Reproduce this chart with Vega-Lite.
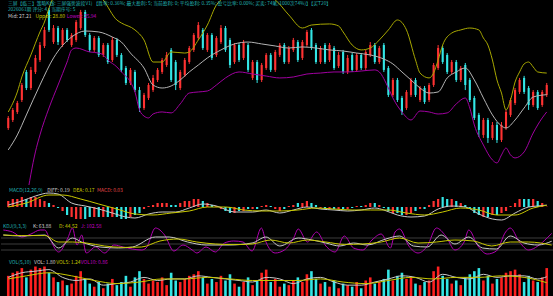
{
"$schema": "https://vega.github.io/schema/vega-lite/v6.json",
"background": "#000000",
"padding": 0,
"spacing": 0,
"config": {"view": {"stroke": null}, "font": "Noto Sans CJK SC"},
"resolve": {"scale": {"x": "independent", "y": "independent", "color": "independent"}},
"datasets": {
"k": [
{"i":1,"o":24.76,"c":25.50,"h":25.64,"l":24.62,"m":0.6,"v":1.3},
{"i":2,"o":25.35,"c":26.09,"h":26.23,"l":25.20,"m":0.8,"v":1.5},
{"i":3,"o":25.94,"c":26.60,"h":26.75,"l":25.79,"m":0.8,"v":1.6},
{"i":4,"o":26.82,"c":27.92,"h":28.07,"l":26.67,"m":1.0,"v":1.8},
{"i":5,"o":28.88,"c":27.70,"h":29.03,"l":27.55,"m":0.8,"v":1.2},
{"i":6,"o":27.70,"c":29.03,"h":29.25,"l":27.55,"m":1.0,"v":1.7},
{"i":7,"o":28.88,"c":29.91,"h":30.13,"l":28.73,"m":1.0,"v":1.9},
{"i":8,"o":29.76,"c":30.86,"h":31.08,"l":29.61,"m":0.8,"v":1.8},
{"i":9,"o":30.79,"c":31.97,"h":32.19,"l":30.64,"m":0.6,"v":1.9},
{"i":10,"o":33.44,"c":31.97,"h":33.58,"l":31.82,"m":0.4,"v":1.5},
{"i":11,"o":31.08,"c":32.11,"h":32.33,"l":30.94,"m":0.2,"v":1.2},
{"i":12,"o":32.11,"c":31.08,"h":32.26,"l":30.86,"m":-0.1,"v":0.9},
{"i":13,"o":30.86,"c":31.97,"h":32.11,"l":30.72,"m":-0.4,"v":1.0},
{"i":14,"o":31.97,"c":31.23,"h":32.11,"l":31.08,"m":-0.8,"v":0.7},
{"i":15,"o":30.86,"c":31.60,"h":31.74,"l":30.72,"m":-1.0,"v":0.8},
{"i":16,"o":31.23,"c":32.55,"h":32.70,"l":31.08,"m":-1.2,"v":1.3},
{"i":17,"o":32.11,"c":33.29,"h":33.44,"l":31.97,"m":-1.2,"v":1.6},
{"i":18,"o":33.29,"c":31.60,"h":33.44,"l":31.45,"m":-1.2,"v":1.1},
{"i":19,"o":31.60,"c":30.50,"h":31.74,"l":30.35,"m":-1.0,"v":0.8},
{"i":20,"o":30.50,"c":31.38,"h":31.52,"l":30.35,"m":-1.0,"v":0.6},
{"i":21,"o":31.38,"c":30.13,"h":31.52,"l":29.98,"m":-1.0,"v":0.9},
{"i":22,"o":30.13,"c":30.86,"h":31.01,"l":29.98,"m":-1.0,"v":0.5},
{"i":23,"o":30.86,"c":29.61,"h":31.01,"l":29.47,"m":-1.0,"v":0.8},
{"i":24,"o":29.76,"c":31.23,"h":31.45,"l":29.61,"m":-1.0,"v":1.1},
{"i":25,"o":31.23,"c":30.13,"h":31.38,"l":29.98,"m":-1.0,"v":0.7},
{"i":26,"o":30.13,"c":29.03,"h":30.27,"l":28.88,"m":-1.2,"v":0.9},
{"i":27,"o":29.17,"c":28.07,"h":29.32,"l":27.92,"m":-1.2,"v":1.3},
{"i":28,"o":28.07,"c":29.03,"h":29.17,"l":27.92,"m":-1.0,"v":0.6},
{"i":29,"o":28.88,"c":27.55,"h":29.03,"l":27.41,"m":-0.8,"v":1.2},
{"i":30,"o":27.55,"c":26.23,"h":27.78,"l":25.94,"m":-0.6,"v":1.6},
{"i":31,"o":26.23,"c":27.19,"h":27.34,"l":26.09,"m":-0.2,"v":1.1},
{"i":32,"o":26.97,"c":27.92,"h":28.07,"l":26.82,"m":0.1,"v":0.8},
{"i":33,"o":27.55,"c":28.44,"h":28.66,"l":27.41,"m":0.2,"v":1.0},
{"i":34,"o":28.29,"c":29.03,"h":29.17,"l":28.14,"m":0.4,"v":0.9},
{"i":35,"o":28.88,"c":29.76,"h":29.91,"l":28.73,"m":0.4,"v":1.2},
{"i":36,"o":29.39,"c":30.13,"h":30.35,"l":29.25,"m":0.4,"v":0.7},
{"i":37,"o":30.50,"c":28.29,"h":30.64,"l":28.14,"m":0.2,"v":1.5},
{"i":38,"o":29.61,"c":27.92,"h":29.76,"l":27.55,"m":0.2,"v":1.0},
{"i":39,"o":27.70,"c":28.88,"h":29.03,"l":27.55,"m":0.4,"v":0.9},
{"i":40,"o":28.66,"c":29.76,"h":29.91,"l":28.51,"m":0.6,"v":1.1},
{"i":41,"o":29.61,"c":30.64,"h":30.79,"l":29.47,"m":0.6,"v":1.3},
{"i":42,"o":30.50,"c":31.60,"h":31.74,"l":30.35,"m":0.8,"v":1.4},
{"i":43,"o":31.38,"c":32.33,"h":32.55,"l":31.23,"m":0.8,"v":1.6},
{"i":44,"o":31.97,"c":30.64,"h":32.11,"l":30.50,"m":0.6,"v":1.2},
{"i":45,"o":30.50,"c":31.60,"h":31.74,"l":30.35,"m":0.4,"v":0.8},
{"i":46,"o":31.60,"c":29.91,"h":31.74,"l":29.76,"m":0.2,"v":1.1},
{"i":47,"o":30.13,"c":31.38,"h":31.52,"l":29.98,"m":0.1,"v":0.9},
{"i":48,"o":31.08,"c":32.11,"h":32.33,"l":30.94,"m":-0.2,"v":1.3},
{"i":49,"o":32.11,"c":30.50,"h":32.26,"l":30.35,"m":-0.4,"v":1.0},
{"i":50,"o":31.23,"c":29.39,"h":31.38,"l":29.17,"m":-0.6,"v":1.4},
{"i":51,"o":29.61,"c":30.86,"h":31.01,"l":29.47,"m":-0.6,"v":0.8},
{"i":52,"o":30.86,"c":29.76,"h":31.01,"l":29.61,"m":-0.4,"v":0.6},
{"i":53,"o":29.91,"c":31.08,"h":31.23,"l":29.76,"m":-0.4,"v":0.9},
{"i":54,"o":30.86,"c":29.03,"h":31.01,"l":28.88,"m":-0.2,"v":1.2},
{"i":55,"o":28.44,"c":29.61,"h":29.76,"l":28.29,"m":-0.2,"v":0.7},
{"i":56,"o":29.61,"c":28.29,"h":29.76,"l":28.07,"m":-0.2,"v":1.0},
{"i":57,"o":28.29,"c":29.39,"h":29.54,"l":28.14,"m":0.1,"v":1.5},
{"i":58,"o":29.17,"c":30.13,"h":30.27,"l":29.03,"m":0.2,"v":1.7},
{"i":59,"o":30.13,"c":29.03,"h":30.27,"l":28.88,"m":0.1,"v":0.9},
{"i":60,"o":29.03,"c":30.35,"h":30.50,"l":28.88,"m":-0.2,"v":1.1},
{"i":61,"o":30.13,"c":30.86,"h":31.01,"l":29.98,"m":-0.4,"v":0.6},
{"i":62,"o":30.86,"c":29.61,"h":31.01,"l":29.47,"m":-0.2,"v":0.8},
{"i":63,"o":29.61,"c":30.64,"h":30.79,"l":29.47,"m":0.1,"v":0.7},
{"i":64,"o":30.50,"c":31.23,"h":31.38,"l":30.35,"m":0.2,"v":1.0},
{"i":65,"o":31.08,"c":29.76,"h":31.23,"l":29.61,"m":0.4,"v":1.2},
{"i":66,"o":29.91,"c":31.08,"h":31.23,"l":29.76,"m":0.4,"v":0.9},
{"i":67,"o":30.86,"c":31.82,"h":31.97,"l":30.72,"m":0.6,"v":1.4},
{"i":68,"o":31.97,"c":30.64,"h":32.11,"l":30.50,"m":0.4,"v":1.6},
{"i":69,"o":30.86,"c":29.61,"h":31.01,"l":29.47,"m":0.2,"v":1.1},
{"i":70,"o":29.61,"c":30.64,"h":30.79,"l":29.47,"m":-0.1,"v":0.8},
{"i":71,"o":30.86,"c":29.61,"h":31.01,"l":29.47,"m":-0.2,"v":0.9},
{"i":72,"o":29.76,"c":30.86,"h":31.01,"l":29.61,"m":-0.2,"v":0.6},
{"i":73,"o":30.64,"c":29.17,"h":30.79,"l":29.03,"m":-0.2,"v":1.0},
{"i":74,"o":29.32,"c":30.13,"h":30.35,"l":29.17,"m":-0.2,"v":0.5},
{"i":75,"o":30.35,"c":28.88,"h":30.50,"l":28.73,"m":-0.2,"v":0.8},
{"i":76,"o":28.88,"c":29.91,"h":30.13,"l":28.73,"m":-0.2,"v":0.7},
{"i":77,"o":30.13,"c":29.03,"h":30.27,"l":28.88,"m":-0.1,"v":0.6},
{"i":78,"o":29.03,"c":30.13,"h":30.27,"l":28.88,"m":0.1,"v":0.9},
{"i":79,"o":30.13,"c":29.17,"h":30.27,"l":29.03,"m":0.1,"v":0.5},
{"i":80,"o":29.17,"c":30.35,"h":30.50,"l":29.03,"m":0.2,"v":1.0},
{"i":81,"o":30.13,"c":30.86,"h":31.08,"l":29.98,"m":0.4,"v":1.2},
{"i":82,"o":30.86,"c":29.61,"h":31.01,"l":29.47,"m":0.4,"v":0.8},
{"i":83,"o":29.61,"c":30.64,"h":30.79,"l":29.47,"m":0.2,"v":0.9},
{"i":84,"o":30.86,"c":29.03,"h":31.01,"l":28.88,"m":-0.1,"v":1.1},
{"i":85,"o":29.17,"c":27.19,"h":29.32,"l":27.04,"m":-0.4,"v":1.7},
{"i":86,"o":27.19,"c":28.29,"h":28.44,"l":27.04,"m":-0.6,"v":1.0},
{"i":87,"o":28.29,"c":26.82,"h":28.44,"l":26.67,"m":-0.6,"v":1.3},
{"i":88,"o":26.97,"c":25.94,"h":27.12,"l":25.72,"m":-0.8,"v":1.5},
{"i":89,"o":26.23,"c":27.41,"h":27.55,"l":26.09,"m":-0.8,"v":1.1},
{"i":90,"o":27.19,"c":28.29,"h":28.44,"l":27.04,"m":-0.6,"v":1.2},
{"i":91,"o":28.29,"c":27.19,"h":28.44,"l":27.04,"m":-0.4,"v":0.8},
{"i":92,"o":26.82,"c":27.70,"h":27.85,"l":26.67,"m":-0.2,"v":0.7},
{"i":93,"o":27.70,"c":26.67,"h":27.85,"l":26.53,"m":-0.2,"v":0.9},
{"i":94,"o":26.82,"c":27.92,"h":28.07,"l":26.67,"m":0.2,"v":1.0},
{"i":95,"o":27.92,"c":29.39,"h":29.54,"l":27.78,"m":0.6,"v":1.6},
{"i":96,"o":29.17,"c":30.64,"h":30.86,"l":29.03,"m":0.8,"v":1.9},
{"i":97,"o":30.64,"c":29.61,"h":30.79,"l":29.47,"m":1.0,"v":1.3},
{"i":98,"o":30.13,"c":28.88,"h":30.27,"l":28.73,"m":0.8,"v":1.1},
{"i":99,"o":28.88,"c":29.61,"h":29.76,"l":28.73,"m":0.8,"v":0.8},
{"i":100,"o":29.61,"c":28.29,"h":29.76,"l":28.14,"m":0.6,"v":1.0},
{"i":101,"o":28.29,"c":29.17,"h":29.32,"l":28.14,"m":0.4,"v":0.7},
{"i":102,"o":29.39,"c":27.92,"h":29.54,"l":27.55,"m":0.2,"v":1.2},
{"i":103,"o":28.29,"c":26.82,"h":28.44,"l":26.67,"m":-0.2,"v":1.4},
{"i":104,"o":26.97,"c":25.50,"h":27.12,"l":25.35,"m":-0.6,"v":1.6},
{"i":105,"o":25.72,"c":24.62,"h":25.87,"l":24.10,"m":-0.8,"v":1.8},
{"i":106,"o":24.25,"c":25.35,"h":25.50,"l":24.03,"m":-1.0,"v":1.0},
{"i":107,"o":25.35,"c":24.03,"h":25.50,"l":23.66,"m":-1.0,"v":1.3},
{"i":108,"o":24.03,"c":24.98,"h":25.20,"l":23.88,"m":-0.8,"v":0.8},
{"i":109,"o":24.98,"c":23.88,"h":25.20,"l":23.66,"m":-0.8,"v":1.1},
{"i":110,"o":23.88,"c":24.98,"h":25.20,"l":23.73,"m":-0.6,"v":1.2},
{"i":111,"o":24.76,"c":25.94,"h":26.09,"l":24.62,"m":-0.4,"v":1.5},
{"i":112,"o":25.72,"c":26.82,"h":26.97,"l":25.57,"m":0.1,"v":1.6},
{"i":113,"o":26.60,"c":27.55,"h":27.70,"l":26.45,"m":0.4,"v":1.7},
{"i":114,"o":27.41,"c":28.29,"h":28.44,"l":27.26,"m":0.8,"v":1.4},
{"i":115,"o":28.44,"c":27.41,"h":28.59,"l":27.26,"m":0.8,"v":0.9},
{"i":116,"o":27.70,"c":26.45,"h":27.85,"l":26.09,"m":0.8,"v":1.3},
{"i":117,"o":26.45,"c":27.41,"h":27.55,"l":26.31,"m":0.8,"v":1.0},
{"i":118,"o":27.41,"c":26.23,"h":27.55,"l":26.09,"m":0.6,"v":0.9},
{"i":119,"o":26.45,"c":27.41,"h":27.55,"l":26.31,"m":0.4,"v":1.2},
{"i":120,"o":27.19,"c":27.92,"h":28.07,"l":27.04,"m":0.03,"v":1.8}
],
"boll": [
{"i":1,"s":"upper","v":25.94},{"i":3,"s":"upper","v":27.41},{"i":4,"s":"upper","v":28.51},{"i":6,"s":"upper","v":30.13},{"i":8,"s":"upper","v":31.82},{"i":9,"s":"upper","v":32.55},{"i":10,"s":"upper","v":33.58},{"i":13,"s":"upper","v":35.27},{"i":17,"s":"upper","v":35.64},{"i":20,"s":"upper","v":34.91},{"i":22,"s":"upper","v":34.17},{"i":25,"s":"upper","v":32.70},{"i":26,"s":"upper","v":32.48},{"i":29,"s":"upper","v":31.97},{"i":31,"s":"upper","v":31.23},{"i":33,"s":"upper","v":29.61},{"i":35,"s":"upper","v":29.61},{"i":37,"s":"upper","v":30.35},{"i":40,"s":"upper","v":30.27},{"i":41,"s":"upper","v":30.35},{"i":43,"s":"upper","v":31.23},{"i":45,"s":"upper","v":32.33},{"i":47,"s":"upper","v":33.80},{"i":50,"s":"upper","v":34.54},{"i":55,"s":"upper","v":34.76},{"i":60,"s":"upper","v":34.17},{"i":63,"s":"upper","v":33.07},{"i":66,"s":"upper","v":32.11},{"i":68,"s":"upper","v":32.33},{"i":72,"s":"upper","v":32.41},{"i":74,"s":"upper","v":32.26},{"i":75,"s":"upper","v":31.82},{"i":77,"s":"upper","v":30.86},{"i":79,"s":"upper","v":30.50},{"i":81,"s":"upper","v":30.64},{"i":83,"s":"upper","v":31.23},{"i":85,"s":"upper","v":31.97},{"i":87,"s":"upper","v":32.70},{"i":89,"s":"upper","v":31.97},{"i":91,"s":"upper","v":29.76},{"i":92,"s":"upper","v":28.80},{"i":94,"s":"upper","v":28.44},{"i":95,"s":"upper","v":28.80},{"i":96,"s":"upper","v":29.76},{"i":97,"s":"upper","v":30.86},{"i":99,"s":"upper","v":31.74},{"i":101,"s":"upper","v":31.97},{"i":103,"s":"upper","v":32.11},{"i":105,"s":"upper","v":31.97},{"i":106,"s":"upper","v":31.38},{"i":107,"s":"upper","v":30.86},{"i":108,"s":"upper","v":29.76},{"i":109,"s":"upper","v":28.29},{"i":110,"s":"upper","v":27.33},{"i":111,"s":"upper","v":26.09},{"i":112,"s":"upper","v":26.82},{"i":113,"s":"upper","v":28.14},{"i":114,"s":"upper","v":28.88},{"i":115,"s":"upper","v":29.47},{"i":116,"s":"upper","v":29.61},{"i":117,"s":"upper","v":29.25},{"i":118,"s":"upper","v":28.88},{"i":120,"s":"upper","v":28.80},
{"i":1,"s":"mid","v":23.15},{"i":3,"s":"mid","v":24.25},{"i":5,"s":"mid","v":25.72},{"i":8,"s":"mid","v":27.92},{"i":11,"s":"mid","v":29.91},{"i":15,"s":"mid","v":31.45},{"i":18,"s":"mid","v":31.89},{"i":21,"s":"mid","v":31.82},{"i":24,"s":"mid","v":31.45},{"i":26,"s":"mid","v":31.08},{"i":28,"s":"mid","v":30.27},{"i":31,"s":"mid","v":29.17},{"i":33,"s":"mid","v":27.92},{"i":35,"s":"mid","v":27.70},{"i":37,"s":"mid","v":27.85},{"i":39,"s":"mid","v":28.29},{"i":41,"s":"mid","v":28.88},{"i":43,"s":"mid","v":29.39},{"i":45,"s":"mid","v":29.91},{"i":48,"s":"mid","v":30.50},{"i":51,"s":"mid","v":30.94},{"i":54,"s":"mid","v":31.08},{"i":57,"s":"mid","v":30.94},{"i":60,"s":"mid","v":30.79},{"i":63,"s":"mid","v":30.64},{"i":66,"s":"mid","v":30.72},{"i":69,"s":"mid","v":30.64},{"i":72,"s":"mid","v":30.50},{"i":75,"s":"mid","v":30.42},{"i":78,"s":"mid","v":30.27},{"i":81,"s":"mid","v":30.13},{"i":84,"s":"mid","v":29.83},{"i":86,"s":"mid","v":29.47},{"i":88,"s":"mid","v":28.88},{"i":90,"s":"mid","v":28.29},{"i":92,"s":"mid","v":27.70},{"i":94,"s":"mid","v":27.33},{"i":96,"s":"mid","v":27.41},{"i":98,"s":"mid","v":28.44},{"i":100,"s":"mid","v":28.88},{"i":102,"s":"mid","v":29.17},{"i":104,"s":"mid","v":28.29},{"i":106,"s":"mid","v":26.97},{"i":108,"s":"mid","v":25.72},{"i":110,"s":"mid","v":24.91},{"i":111,"s":"mid","v":24.76},{"i":113,"s":"mid","v":25.35},{"i":115,"s":"mid","v":26.23},{"i":117,"s":"mid","v":27.04},{"i":120,"s":"mid","v":27.21},
{"i":5,"s":"lower","v":19.47},{"i":7,"s":"lower","v":23.00},{"i":8,"s":"lower","v":24.25},{"i":10,"s":"lower","v":26.23},{"i":12,"s":"lower","v":27.92},{"i":14,"s":"lower","v":29.61},{"i":15,"s":"lower","v":30.50},{"i":16,"s":"lower","v":30.64},{"i":19,"s":"lower","v":30.35},{"i":21,"s":"lower","v":30.27},{"i":22,"s":"lower","v":30.13},{"i":23,"s":"lower","v":29.76},{"i":25,"s":"lower","v":29.25},{"i":26,"s":"lower","v":28.88},{"i":28,"s":"lower","v":28.14},{"i":29,"s":"lower","v":27.41},{"i":30,"s":"lower","v":26.09},{"i":31,"s":"lower","v":25.64},{"i":32,"s":"lower","v":25.50},{"i":33,"s":"lower","v":25.79},{"i":35,"s":"lower","v":25.94},{"i":37,"s":"lower","v":25.87},{"i":39,"s":"lower","v":26.53},{"i":41,"s":"lower","v":27.33},{"i":43,"s":"lower","v":27.41},{"i":45,"s":"lower","v":27.48},{"i":47,"s":"lower","v":27.92},{"i":49,"s":"lower","v":28.44},{"i":52,"s":"lower","v":28.88},{"i":55,"s":"lower","v":28.73},{"i":58,"s":"lower","v":28.58},{"i":61,"s":"lower","v":28.44},{"i":64,"s":"lower","v":28.51},{"i":67,"s":"lower","v":28.73},{"i":70,"s":"lower","v":28.80},{"i":73,"s":"lower","v":28.88},{"i":76,"s":"lower","v":28.88},{"i":79,"s":"lower","v":28.95},{"i":82,"s":"lower","v":29.03},{"i":83,"s":"lower","v":28.88},{"i":85,"s":"lower","v":27.70},{"i":86,"s":"lower","v":26.97},{"i":88,"s":"lower","v":25.94},{"i":90,"s":"lower","v":25.35},{"i":92,"s":"lower","v":26.01},{"i":94,"s":"lower","v":25.94},{"i":96,"s":"lower","v":25.79},{"i":98,"s":"lower","v":25.87},{"i":100,"s":"lower","v":26.53},{"i":102,"s":"lower","v":26.97},{"i":103,"s":"lower","v":26.23},{"i":104,"s":"lower","v":24.98},{"i":106,"s":"lower","v":23.51},{"i":108,"s":"lower","v":22.41},{"i":109,"s":"lower","v":22.19},{"i":110,"s":"lower","v":22.78},{"i":111,"s":"lower","v":23.29},{"i":112,"s":"lower","v":22.78},{"i":113,"s":"lower","v":22.56},{"i":115,"s":"lower","v":23.00},{"i":117,"s":"lower","v":24.39},{"i":119,"s":"lower","v":25.50},{"i":120,"s":"lower","v":25.94}
],
"macdl": [
{"i":1,"s":"DIFF","v":0.2},{"i":4,"s":"DIFF","v":0.6},{"i":7,"s":"DIFF","v":1.1},{"i":10,"s":"DIFF","v":1.4},{"i":12,"s":"DIFF","v":1.3},{"i":15,"s":"DIFF","v":0.4},{"i":18,"s":"DIFF","v":0.1},{"i":21,"s":"DIFF","v":-0.2},{"i":24,"s":"DIFF","v":-0.6},{"i":27,"s":"DIFF","v":-1.0},{"i":29,"s":"DIFF","v":-1.1},{"i":32,"s":"DIFF","v":-0.7},{"i":35,"s":"DIFF","v":-0.5},{"i":38,"s":"DIFF","v":-0.5},{"i":41,"s":"DIFF","v":-0.1},{"i":44,"s":"DIFF","v":0.3},{"i":47,"s":"DIFF","v":0.1},{"i":51,"s":"DIFF","v":-0.5},{"i":55,"s":"DIFF","v":-0.5},{"i":58,"s":"DIFF","v":-0.3},{"i":61,"s":"DIFF","v":-0.6},{"i":64,"s":"DIFF","v":-0.3},{"i":67,"s":"DIFF","v":0.0},{"i":70,"s":"DIFF","v":-0.2},{"i":73,"s":"DIFF","v":-0.3},{"i":76,"s":"DIFF","v":-0.4},{"i":79,"s":"DIFF","v":-0.3},{"i":82,"s":"DIFF","v":-0.1},{"i":84,"s":"DIFF","v":-0.3},{"i":87,"s":"DIFF","v":-0.8},{"i":90,"s":"DIFF","v":-1.0},{"i":93,"s":"DIFF","v":-0.9},{"i":96,"s":"DIFF","v":-0.2},{"i":99,"s":"DIFF","v":0.1},{"i":102,"s":"DIFF","v":0.0},{"i":105,"s":"DIFF","v":-0.7},{"i":108,"s":"DIFF","v":-1.2},{"i":110,"s":"DIFF","v":-1.3},{"i":113,"s":"DIFF","v":-0.6},{"i":116,"s":"DIFF","v":0.0},{"i":118,"s":"DIFF","v":0.1},{"i":120,"s":"DIFF","v":0.19},
{"i":1,"s":"DEA","v":0.0},{"i":5,"s":"DEA","v":0.4},{"i":10,"s":"DEA","v":1.2},{"i":13,"s":"DEA","v":1.2},{"i":17,"s":"DEA","v":0.8},{"i":21,"s":"DEA","v":0.3},{"i":25,"s":"DEA","v":-0.2},{"i":29,"s":"DEA","v":-0.7},{"i":33,"s":"DEA","v":-0.8},{"i":37,"s":"DEA","v":-0.6},{"i":41,"s":"DEA","v":-0.4},{"i":45,"s":"DEA","v":0.0},{"i":49,"s":"DEA","v":0.0},{"i":53,"s":"DEA","v":-0.3},{"i":57,"s":"DEA","v":-0.4},{"i":61,"s":"DEA","v":-0.4},{"i":65,"s":"DEA","v":-0.3},{"i":69,"s":"DEA","v":-0.1},{"i":73,"s":"DEA","v":-0.2},{"i":77,"s":"DEA","v":-0.3},{"i":81,"s":"DEA","v":-0.3},{"i":85,"s":"DEA","v":-0.3},{"i":89,"s":"DEA","v":-0.6},{"i":93,"s":"DEA","v":-0.8},{"i":97,"s":"DEA","v":-0.5},{"i":101,"s":"DEA","v":-0.1},{"i":105,"s":"DEA","v":-0.3},{"i":109,"s":"DEA","v":-0.8},{"i":113,"s":"DEA","v":-0.8},{"i":117,"s":"DEA","v":-0.1},{"i":120,"s":"DEA","v":0.17}
],
"kdj": [
{"i":1,"s":"J","v":120},{"i":3,"s":"J","v":110},{"i":5,"s":"J","v":85},{"i":7,"s":"J","v":100},{"i":9,"s":"J","v":120},{"i":10,"s":"J","v":120},{"i":11,"s":"J","v":80},{"i":13,"s":"J","v":10},{"i":15,"s":"J","v":80},{"i":16,"s":"J","v":130},{"i":17,"s":"J","v":45},{"i":18,"s":"J","v":95},{"i":19,"s":"J","v":5},{"i":21,"s":"J","v":35},{"i":23,"s":"J","v":5},{"i":25,"s":"J","v":45},{"i":27,"s":"J","v":35},{"i":29,"s":"J","v":25},{"i":31,"s":"J","v":20},{"i":32,"s":"J","v":30},{"i":34,"s":"J","v":130},{"i":36,"s":"J","v":95},{"i":38,"s":"J","v":15},{"i":40,"s":"J","v":45},{"i":42,"s":"J","v":20},{"i":43,"s":"J","v":5},{"i":45,"s":"J","v":35},{"i":47,"s":"J","v":10},{"i":49,"s":"J","v":55},{"i":51,"s":"J","v":65},{"i":53,"s":"J","v":60},{"i":55,"s":"J","v":15},{"i":57,"s":"J","v":130},{"i":58,"s":"J","v":60},{"i":60,"s":"J","v":5},{"i":62,"s":"J","v":20},{"i":64,"s":"J","v":80},{"i":65,"s":"J","v":125},{"i":67,"s":"J","v":60},{"i":69,"s":"J","v":110},{"i":71,"s":"J","v":40},{"i":73,"s":"J","v":10},{"i":75,"s":"J","v":90},{"i":77,"s":"J","v":30},{"i":79,"s":"J","v":20},{"i":81,"s":"J","v":70},{"i":83,"s":"J","v":100},{"i":85,"s":"J","v":30},{"i":86,"s":"J","v":110},{"i":87,"s":"J","v":125},{"i":89,"s":"J","v":40},{"i":91,"s":"J","v":5},{"i":93,"s":"J","v":40},{"i":95,"s":"J","v":130},{"i":97,"s":"J","v":90},{"i":99,"s":"J","v":20},{"i":101,"s":"J","v":60},{"i":102,"s":"J","v":120},{"i":104,"s":"J","v":40},{"i":106,"s":"J","v":0},{"i":108,"s":"J","v":15},{"i":110,"s":"J","v":110},{"i":111,"s":"J","v":130},{"i":113,"s":"J","v":60},{"i":115,"s":"J","v":20},{"i":117,"s":"J","v":40},{"i":119,"s":"J","v":80},{"i":120,"s":"J","v":102.58},
{"i":1,"s":"K","v":95},{"i":5,"s":"K","v":90},{"i":10,"s":"K","v":95},{"i":13,"s":"K","v":30},{"i":16,"s":"K","v":80},{"i":18,"s":"K","v":60},{"i":22,"s":"K","v":35},{"i":26,"s":"K","v":30},{"i":29,"s":"K","v":35},{"i":34,"s":"K","v":85},{"i":37,"s":"K","v":85},{"i":41,"s":"K","v":60},{"i":45,"s":"K","v":45},{"i":50,"s":"K","v":45},{"i":55,"s":"K","v":55},{"i":58,"s":"K","v":85},{"i":61,"s":"K","v":40},{"i":65,"s":"K","v":80},{"i":68,"s":"K","v":70},{"i":71,"s":"K","v":55},{"i":74,"s":"K","v":40},{"i":77,"s":"K","v":55},{"i":80,"s":"K","v":45},{"i":84,"s":"K","v":75},{"i":87,"s":"K","v":90},{"i":90,"s":"K","v":40},{"i":93,"s":"K","v":35},{"i":96,"s":"K","v":95},{"i":99,"s":"K","v":50},{"i":102,"s":"K","v":85},{"i":105,"s":"K","v":30},{"i":108,"s":"K","v":25},{"i":111,"s":"K","v":90},{"i":114,"s":"K","v":55},{"i":117,"s":"K","v":45},{"i":120,"s":"K","v":63.88},
{"i":1,"s":"D","v":95},{"i":5,"s":"D","v":92},{"i":10,"s":"D","v":92},{"i":13,"s":"D","v":60},{"i":16,"s":"D","v":60},{"i":19,"s":"D","v":55},{"i":23,"s":"D","v":40},{"i":27,"s":"D","v":33},{"i":31,"s":"D","v":35},{"i":35,"s":"D","v":65},{"i":39,"s":"D","v":75},{"i":43,"s":"D","v":60},{"i":47,"s":"D","v":50},{"i":51,"s":"D","v":47},{"i":55,"s":"D","v":50},{"i":59,"s":"D","v":70},{"i":63,"s":"D","v":55},{"i":67,"s":"D","v":70},{"i":71,"s":"D","v":60},{"i":75,"s":"D","v":48},{"i":79,"s":"D","v":50},{"i":83,"s":"D","v":60},{"i":87,"s":"D","v":80},{"i":91,"s":"D","v":55},{"i":95,"s":"D","v":60},{"i":99,"s":"D","v":70},{"i":103,"s":"D","v":65},{"i":107,"s":"D","v":40},{"i":111,"s":"D","v":60},{"i":115,"s":"D","v":60},{"i":120,"s":"D","v":44.52}
],
"volma": [
{"i":1,"s":"MA5","v":1.2},{"i":4,"s":"MA5","v":1.5},{"i":7,"s":"MA5","v":1.6},{"i":10,"s":"MA5","v":1.7},{"i":13,"s":"MA5","v":1.2},{"i":16,"s":"MA5","v":1.0},{"i":19,"s":"MA5","v":1.1},{"i":22,"s":"MA5","v":0.7},{"i":25,"s":"MA5","v":0.8},{"i":28,"s":"MA5","v":0.9},{"i":31,"s":"MA5","v":1.2},{"i":34,"s":"MA5","v":1.0},{"i":37,"s":"MA5","v":1.1},{"i":40,"s":"MA5","v":1.1},{"i":43,"s":"MA5","v":1.3},{"i":46,"s":"MA5","v":1.2},{"i":49,"s":"MA5","v":1.1},{"i":52,"s":"MA5","v":1.0},{"i":55,"s":"MA5","v":0.9},{"i":58,"s":"MA5","v":1.2},{"i":61,"s":"MA5","v":1.1},{"i":64,"s":"MA5","v":0.8},{"i":67,"s":"MA5","v":1.1},{"i":70,"s":"MA5","v":1.2},{"i":73,"s":"MA5","v":0.9},{"i":76,"s":"MA5","v":0.7},{"i":79,"s":"MA5","v":0.7},{"i":82,"s":"MA5","v":0.9},{"i":85,"s":"MA5","v":1.1},{"i":88,"s":"MA5","v":1.3},{"i":91,"s":"MA5","v":1.2},{"i":94,"s":"MA5","v":0.9},{"i":97,"s":"MA5","v":1.4},{"i":100,"s":"MA5","v":1.2},{"i":103,"s":"MA5","v":1.1},{"i":106,"s":"MA5","v":1.4},{"i":109,"s":"MA5","v":1.2},{"i":112,"s":"MA5","v":1.3},{"i":115,"s":"MA5","v":1.3},{"i":118,"s":"MA5","v":1.1},{"i":120,"s":"MA5","v":1.24},
{"i":1,"s":"MA10","v":1.1},{"i":5,"s":"MA10","v":1.3},{"i":10,"s":"MA10","v":1.5},{"i":15,"s":"MA10","v":1.3},{"i":20,"s":"MA10","v":1.0},{"i":25,"s":"MA10","v":0.8},{"i":30,"s":"MA10","v":0.9},{"i":35,"s":"MA10","v":1.1},{"i":40,"s":"MA10","v":1.1},{"i":45,"s":"MA10","v":1.2},{"i":50,"s":"MA10","v":1.1},{"i":55,"s":"MA10","v":1.0},{"i":60,"s":"MA10","v":1.0},{"i":65,"s":"MA10","v":1.0},{"i":70,"s":"MA10","v":1.1},{"i":75,"s":"MA10","v":0.9},{"i":80,"s":"MA10","v":0.8},{"i":85,"s":"MA10","v":1.0},{"i":90,"s":"MA10","v":1.2},{"i":95,"s":"MA10","v":1.1},{"i":100,"s":"MA10","v":1.2},{"i":105,"s":"MA10","v":1.2},{"i":110,"s":"MA10","v":1.3},{"i":115,"s":"MA10","v":1.2},{"i":120,"s":"MA10","v":0.86}
]
},
"vconcat": [
{
"width": 553, "height": 185,
"layer": [
{"data": {"name": "k"}, "mark": {"type": "rule", "strokeWidth": 1},
 "encoding": {"x": {"field": "i", "type": "quantitative", "scale": {"domain": [0.5, 120.5], "nice": false, "zero": false}, "axis": null},
  "y": {"field": "l", "type": "quantitative", "scale": {"domain": [20.57, 34.17], "nice": false, "zero": false}, "axis": null},
  "y2": {"field": "h"},
  "color": {"condition": {"test": "datum.c >= datum.o", "value": "#ff3232"}, "value": "#33e6e6"}}},
{"data": {"name": "k"}, "mark": {"type": "bar", "width": 2.1},
 "encoding": {"x": {"field": "i", "type": "quantitative", "scale": {"domain": [0.5, 120.5], "nice": false, "zero": false}, "axis": null},
  "y": {"field": "o", "type": "quantitative", "scale": {"domain": [20.57, 34.17], "nice": false, "zero": false}, "axis": null},
  "y2": {"field": "c"},
  "color": {"condition": {"test": "datum.c >= datum.o", "value": "#ff3232"}, "value": "#33e6e6"}}},
{"data": {"name": "boll"}, "mark": {"type": "line", "strokeWidth": 1, "interpolate": "monotone", "clip": true},
 "encoding": {"x": {"field": "i", "type": "quantitative", "scale": {"domain": [0.5, 120.5], "nice": false, "zero": false}, "axis": null},
  "y": {"field": "v", "type": "quantitative", "scale": {"domain": [20.57, 34.17], "nice": false, "zero": false}, "axis": null},
  "color": {"field": "s", "type": "nominal", "scale": {"domain": ["upper", "mid", "lower"], "range": ["#a8a800", "#b4b4b4", "#a000a0"]}, "legend": null}}},
{"data": {"values": [{"t": "三屏【临三】策略K线: 三屏强势波段V1) 【胜率: 0.36%; 最大盈利: 5; 当前盈利: 0; 平均盈利: 0.35%; 盈亏比率: 0.00%; 买卖: 74笔/1000次74%)】【买T20】"}]},
 "mark": {"type": "text", "align": "left", "baseline": "middle", "fontSize": 4.8, "color": "#20b2b2"},
 "encoding": {"x": {"datum": 0.93, "type": "quantitative"}, "y": {"datum": 33.88, "type": "quantitative"}, "text": {"field": "t"}}},
{"data": {"values": [{"t": "2026061期 评分: 4 / 当期序号: 5"}]},
 "mark": {"type": "text", "align": "left", "baseline": "middle", "fontSize": 4.8, "color": "#20b2b2"},
 "encoding": {"x": {"datum": 0.93, "type": "quantitative"}, "y": {"datum": 33.44, "type": "quantitative"}, "text": {"field": "t"}}},
{"data": {"values": [{"t": "Mid: 27.21"}]},
 "mark": {"type": "text", "align": "left", "baseline": "middle", "fontSize": 5, "color": "#d0d0d0"},
 "encoding": {"x": {"datum": 0.93, "type": "quantitative"}, "y": {"datum": 32.96, "type": "quantitative"}, "text": {"field": "t"}}},
{"data": {"values": [{"t": "Upper: 28.80"}]},
 "mark": {"type": "text", "align": "left", "baseline": "middle", "fontSize": 5, "color": "#c8c800"},
 "encoding": {"x": {"datum": 7.0, "type": "quantitative"}, "y": {"datum": 32.96, "type": "quantitative"}, "text": {"field": "t"}}},
{"data": {"values": [{"t": "Lower: 25.94"}]},
 "mark": {"type": "text", "align": "left", "baseline": "middle", "fontSize": 5, "color": "#c000c0"},
 "encoding": {"x": {"datum": 13.95, "type": "quantitative"}, "y": {"datum": 32.96, "type": "quantitative"}, "text": {"field": "t"}}}
]
},
{
"width": 553, "height": 37,
"layer": [
{"data": {"name": "k"}, "mark": {"type": "bar", "width": 2.2},
 "encoding": {"x": {"field": "i", "type": "quantitative", "scale": {"domain": [0.5, 120.5], "nice": false, "zero": false}, "axis": null},
  "y": {"field": "m", "type": "quantitative", "scale": {"domain": [-1.5, 2.2], "nice": false, "zero": false}, "axis": null},
  "y2": {"datum": 0},
  "color": {"condition": {"test": "datum.c >= datum.o", "value": "#ff3232"}, "value": "#33e6e6"}}},
{"data": {"name": "macdl"}, "mark": {"type": "line", "strokeWidth": 1, "interpolate": "monotone", "clip": true},
 "encoding": {"x": {"field": "i", "type": "quantitative", "scale": {"domain": [0.5, 120.5], "nice": false, "zero": false}, "axis": null},
  "y": {"field": "v", "type": "quantitative", "scale": {"domain": [-1.5, 2.2], "nice": false, "zero": false}, "axis": null},
  "color": {"field": "s", "type": "nominal", "scale": {"domain": ["DIFF", "DEA"], "range": ["#c8c8c8", "#c8c800"]}, "legend": null}}},
{"data": {"values": [{"t": "MACD(12,26,9)"}]}, "mark": {"type": "text", "align": "left", "baseline": "middle", "fontSize": 5, "color": "#20b2b2"},
 "encoding": {"x": {"datum": 1.15, "type": "quantitative"}, "y": {"datum": 1.7, "type": "quantitative"}, "text": {"field": "t"}}},
{"data": {"values": [{"t": "DIFF: 0.19"}]}, "mark": {"type": "text", "align": "left", "baseline": "middle", "fontSize": 5, "color": "#d0d0d0"},
 "encoding": {"x": {"datum": 9.6, "type": "quantitative"}, "y": {"datum": 1.7, "type": "quantitative"}, "text": {"field": "t"}}},
{"data": {"values": [{"t": "DEA: 0.17"}]}, "mark": {"type": "text", "align": "left", "baseline": "middle", "fontSize": 5, "color": "#c8c800"},
 "encoding": {"x": {"datum": 15.3, "type": "quantitative"}, "y": {"datum": 1.7, "type": "quantitative"}, "text": {"field": "t"}}},
{"data": {"values": [{"t": "MACD: 0.03"}]}, "mark": {"type": "text", "align": "left", "baseline": "middle", "fontSize": 5, "color": "#e04848"},
 "encoding": {"x": {"datum": 20.6, "type": "quantitative"}, "y": {"datum": 1.7, "type": "quantitative"}, "text": {"field": "t"}}}
]
},
{
"width": 553, "height": 36,
"layer": [
{"data": {"values": [{"r": 80}, {"r": 50}, {"r": 20}]}, "mark": {"type": "rule", "strokeWidth": 1, "color": "#3c3c3c"},
 "encoding": {"y": {"field": "r", "type": "quantitative", "scale": {"domain": [-20, 160], "nice": false, "zero": false}, "axis": null}}},
{"data": {"name": "kdj"}, "mark": {"type": "line", "strokeWidth": 1, "interpolate": "monotone", "clip": true},
 "encoding": {"x": {"field": "i", "type": "quantitative", "scale": {"domain": [0.5, 120.5], "nice": false, "zero": false}, "axis": null},
  "y": {"field": "v", "type": "quantitative", "scale": {"domain": [-20, 160], "nice": false, "zero": false}, "axis": null},
  "color": {"field": "s", "type": "nominal", "scale": {"domain": ["K", "D", "J"], "range": ["#c8c8c8", "#c8c800", "#b000b0"]}, "legend": null}}},
{"data": {"values": [{"t": "KDJ(9,3,3)"}]}, "mark": {"type": "text", "align": "left", "baseline": "middle", "fontSize": 5, "color": "#20b2b2"},
 "encoding": {"x": {"datum": 0.93, "type": "quantitative"}, "y": {"datum": 140, "type": "quantitative"}, "text": {"field": "t"}}},
{"data": {"values": [{"t": "K: 63.88"}]}, "mark": {"type": "text", "align": "left", "baseline": "middle", "fontSize": 5, "color": "#d0d0d0"},
 "encoding": {"x": {"datum": 7.44, "type": "quantitative"}, "y": {"datum": 140, "type": "quantitative"}, "text": {"field": "t"}}},
{"data": {"values": [{"t": "D: 44.52"}]}, "mark": {"type": "text", "align": "left", "baseline": "middle", "fontSize": 5, "color": "#c8c800"},
 "encoding": {"x": {"datum": 13.09, "type": "quantitative"}, "y": {"datum": 140, "type": "quantitative"}, "text": {"field": "t"}}},
{"data": {"values": [{"t": "J: 102.58"}]}, "mark": {"type": "text", "align": "left", "baseline": "middle", "fontSize": 5, "color": "#c000c0"},
 "encoding": {"x": {"datum": 17.86, "type": "quantitative"}, "y": {"datum": 140, "type": "quantitative"}, "text": {"field": "t"}}}
]
},
{
"width": 553, "height": 38,
"layer": [
{"data": {"name": "k"}, "mark": {"type": "bar", "width": 2.6},
 "encoding": {"x": {"field": "i", "type": "quantitative", "scale": {"domain": [0.5, 120.5], "nice": false, "zero": false}, "axis": null},
  "y": {"field": "v", "type": "quantitative", "scale": {"domain": [0, 2.45], "nice": false, "zero": true}, "axis": null},
  "color": {"condition": {"test": "datum.c >= datum.o", "value": "#ff2020"}, "value": "#33e6e6"}}},
{"data": {"name": "volma"}, "mark": {"type": "line", "strokeWidth": 1, "interpolate": "monotone", "clip": true},
 "encoding": {"x": {"field": "i", "type": "quantitative", "scale": {"domain": [0.5, 120.5], "nice": false, "zero": false}, "axis": null},
  "y": {"field": "v", "type": "quantitative", "scale": {"domain": [0, 2.45], "nice": false, "zero": true}, "axis": null},
  "color": {"field": "s", "type": "nominal", "scale": {"domain": ["MA5", "MA10"], "range": ["#c8c8c8", "#c8c800"]}, "legend": null}}},
{"data": {"values": [{"t": "VOL(5,10)"}]}, "mark": {"type": "text", "align": "left", "baseline": "middle", "fontSize": 5, "color": "#20b2b2"},
 "encoding": {"x": {"datum": 1.15, "type": "quantitative"}, "y": {"datum": 2.19, "type": "quantitative"}, "text": {"field": "t"}}},
{"data": {"values": [{"t": "VOL: 1.80"}]}, "mark": {"type": "text", "align": "left", "baseline": "middle", "fontSize": 5, "color": "#d0d0d0"},
 "encoding": {"x": {"datum": 6.7, "type": "quantitative"}, "y": {"datum": 2.19, "type": "quantitative"}, "text": {"field": "t"}}},
{"data": {"values": [{"t": "VOL5: 1.24"}]}, "mark": {"type": "text", "align": "left", "baseline": "middle", "fontSize": 5, "color": "#c8c800"},
 "encoding": {"x": {"datum": 11.6, "type": "quantitative"}, "y": {"datum": 2.19, "type": "quantitative"}, "text": {"field": "t"}}},
{"data": {"values": [{"t": "VOL10: 0.86"}]}, "mark": {"type": "text", "align": "left", "baseline": "middle", "fontSize": 5, "color": "#c000c0"},
 "encoding": {"x": {"datum": 17.0, "type": "quantitative"}, "y": {"datum": 2.19, "type": "quantitative"}, "text": {"field": "t"}}}
]
}
]
}
